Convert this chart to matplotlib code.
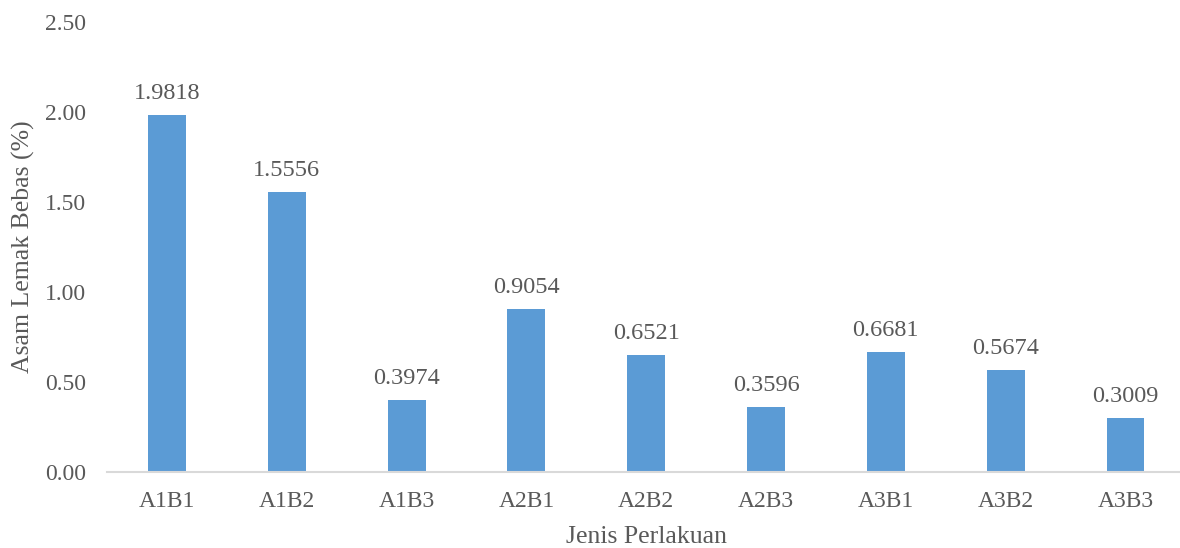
import matplotlib
matplotlib.use("Agg")
import matplotlib.pyplot as plt

categories = ["A1B1", "A1B2", "A1B3", "A2B1", "A2B2", "A2B3", "A3B1", "A3B2", "A3B3"]
values = [1.9818, 1.5556, 0.3974, 0.9054, 0.6521, 0.3596, 0.6681, 0.5674, 0.3009]
yticks = [0.0, 0.5, 1.0, 1.5, 2.0, 2.5]

plt.rcParams['font.family'] = ['Liberation Serif', 'DejaVu Serif']
txt = '#595959'

fig = plt.figure(figsize=(11.8, 5.48), dpi=100)
W, H = 1180, 548
ax = fig.add_axes([107.1 / W, (H - 472) / H, (1185.4 - 107.1) / W, 450 / H])

x = list(range(len(categories)))
bars = ax.bar(x, values, width=0.317, color='#5B9BD5', zorder=2)
for xi, v in zip(x, values):
    ax.annotate(f"{v:.4f}", (xi, v), xytext=(0, 8), textcoords='offset points',
                ha='center', va='bottom', fontsize=17.5, color=txt)

ax.set_xlim(-0.5, len(categories) - 0.5)
ax.set_ylim(0, 2.5)
ax.set_yticks(yticks)
ax.set_yticklabels([f"{t:.2f}" for t in yticks])
ax.set_xticks(x)
ax.set_xticklabels(categories)
ax.tick_params(axis='both', length=0, labelsize=17, colors=txt)
ax.tick_params(axis='y', pad=15)
ax.tick_params(axis='x', pad=14)
for s in ['top', 'right', 'left']:
    ax.spines[s].set_visible(False)
ax.spines['bottom'].set_color('#D9D9D9')
ax.spines['bottom'].set_linewidth(1.5)

ax.set_xlabel("Jenis Perlakuan", fontsize=18.5, color=txt, labelpad=10)
ax.set_ylabel("Asam Lemak Bebas (%)", fontsize=18.5, color=txt, labelpad=7)

fig.savefig("out.png", dpi=100)
